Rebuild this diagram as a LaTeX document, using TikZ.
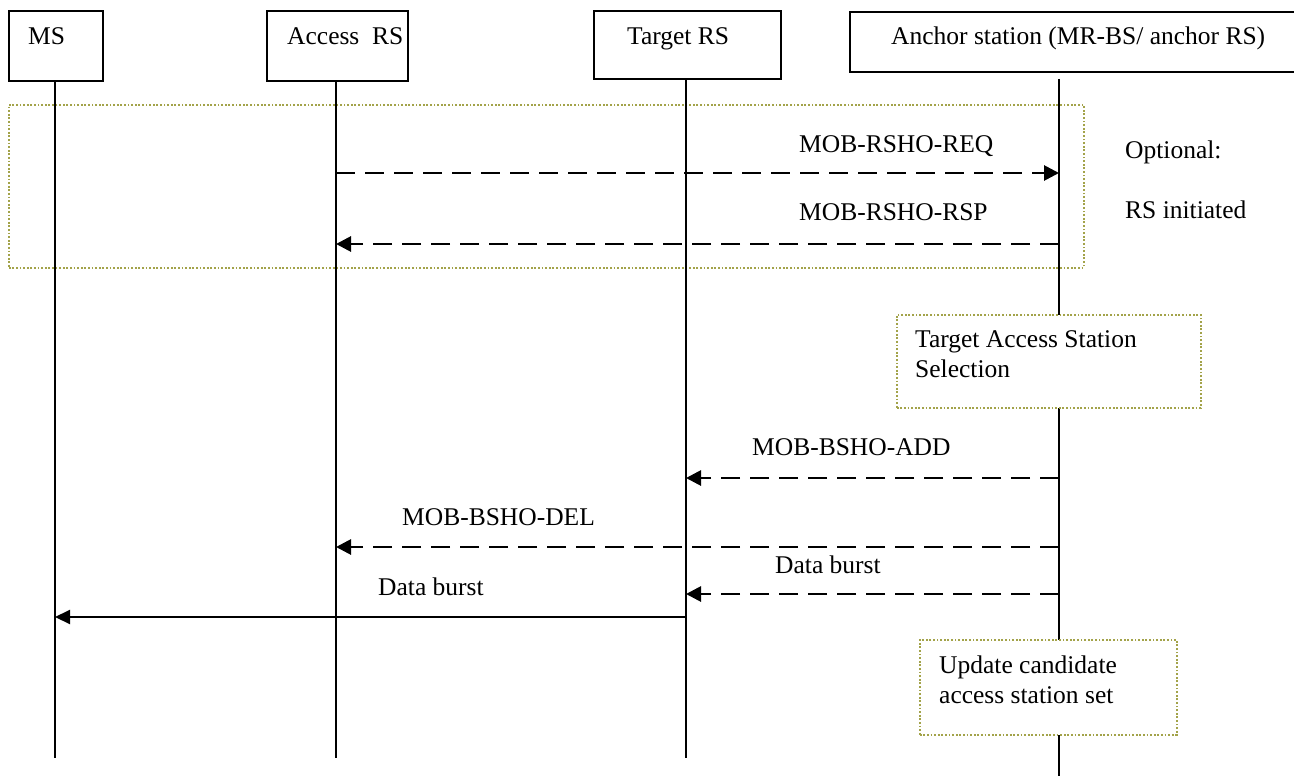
\documentclass[tikz,border=0pt]{standalone}
\usepackage{fontspec}
\setmainfont{Liberation Serif}
\usetikzlibrary{arrows.meta}
\definecolor{dotcol}{HTML}{A3A34A}
\begin{document}
\begin{tikzpicture}[x=1pt,y=-1pt,
  every node/.style={font=\fontsize{25.5}{30}\selectfont, inner sep=0pt},
  actor/.style={draw=black, line width=2.2pt, fill=white, anchor=north west},
  txt/.style={anchor=base west},
  life/.style={line width=2.2pt},
  msg/.style={line width=2.8pt, dash pattern=on 19pt off 10pt, -{Triangle[length=15pt,width=15pt]}},
  solidmsg/.style={line width=2pt, -{Triangle[length=15pt,width=14pt]}},
  note/.style={draw=dotcol, line width=1.6pt, dash pattern=on 1.8pt off 1.8pt, fill=white, anchor=north west}
]
\useasboundingbox (0,0) rectangle (1294,776);

% optional frame
\node[note, fill=none, minimum width=1075pt, minimum height=163pt] (opt) at (8,104) {};

% lifeline coordinates
\coordinate (msT) at (55,80);   \coordinate (msB) at (55,758);
\coordinate (acT) at (336,80);  \coordinate (acB) at (336,758);
\coordinate (tgT) at (686,78);  \coordinate (tgB) at (686,758);
\coordinate (anT) at (1059,79); \coordinate (anB) at (1059,776);

\draw[life] (msT) -- (msB);
\draw[life] (acT) -- (acB);
\draw[life] (tgT) -- (tgB);
\draw[life] (anT) -- (anB);

% actor boxes
\node[actor, minimum width=94pt, minimum height=70pt] (ms) at (8,10) {};
\node[txt] (mst) at (28,45) {MS};
\node[actor, minimum width=141pt, minimum height=70pt] (ac) at (266,10) {};
\node[txt] (act) at (287,45) {Access\ \ RS};
\node[actor, minimum width=187pt, minimum height=68pt] (tg) at (593,10) {};
\node[txt] (tgt) at (627,45) {Target RS};
\node[actor, minimum width=445pt, minimum height=60pt] (an) at (849,11) {};
\node[txt] (ant) at (891,45) {Anchor station (MR-BS/ anchor RS)};

% optional messages
\coordinate (r1s) at (336,173); \coordinate (r1e) at (1059,173);
\draw[msg] (r1s) -- (r1e);
\node[txt] (l1) at (799,152) {MOB-RSHO-REQ};
\coordinate (r2s) at (1059,244); \coordinate (r2e) at (336,244);
\draw[msg] (r2s) -- (r2e);
\node[txt] (l2) at (799,220) {MOB-RSHO-RSP};
\node[txt] (o1) at (1125,158) {Optional:};
\node[txt] (o2) at (1125,218) {RS initiated};

% target selection note
\node[note, minimum width=304pt, minimum height=93pt] (sel) at (896,314) {};
\node[txt] (selt1) at (915,347) {Target Access Station};
\node[txt] (selt2) at (915,377) {Selection};

% BSHO messages
\coordinate (m3s) at (1059,478); \coordinate (m3e) at (686,478);
\draw[msg] (m3s) -- (m3e);
\node[txt] (l3) at (752,455) {MOB-BSHO-ADD};
\coordinate (m4s) at (1059,547); \coordinate (m4e) at (336,547);
\draw[msg] (m4s) -- (m4e);
\node[txt] (l4) at (402,525) {MOB-BSHO-DEL};
\coordinate (m5s) at (1059,594); \coordinate (m5e) at (686,594);
\draw[msg] (m5s) -- (m5e);
\node[txt] (l5) at (775,573) {Data burst};
\coordinate (m6s) at (686,617); \coordinate (m6e) at (55,617);
\draw[solidmsg] (m6s) -- (m6e);
\node[txt] (l6) at (378,595) {Data burst};

% update note
\node[note, minimum width=257pt, minimum height=95pt] (upd) at (919,639) {};
\node[txt] (updt1) at (939,673) {Update candidate};
\node[txt] (updt2) at (939,703) {access station set};
\end{tikzpicture}
\end{document}
